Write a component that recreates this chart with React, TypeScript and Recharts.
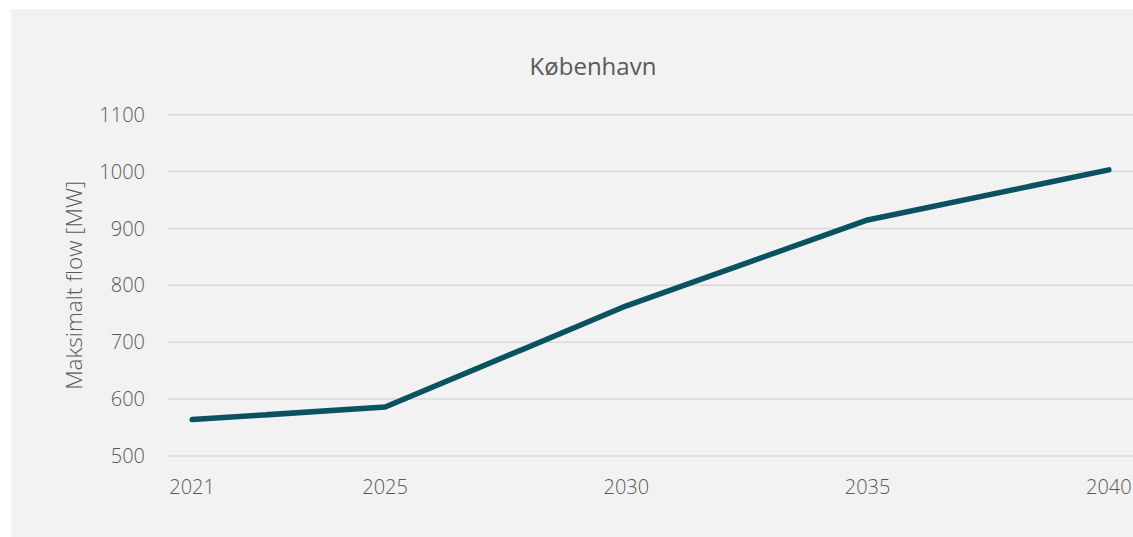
import React from "react";
import { LineChart, Line, XAxis, YAxis, CartesianGrid, Label } from "recharts";

const years = [2021, 2025, 2030, 2035, 2040];
const flowMW = [564, 586, 764, 915, 1003];
const yTicks = [500, 600, 700, 800, 900, 1000, 1100];
const xTicks = [2021, 2025, 2030, 2035, 2040];
const title = "København";
const yLabel = "Maksimalt flow [MW]";

const data = years.map((y, i) => ({ year: y, flow: flowMW[i] }));

const FONT = "'Open Sans', 'Noto Sans', sans-serif";
const TEXT = "#595959";

const YLabel = (props: any) => {
  const vb = props.viewBox || {};
  const cx = 63;
  const cy = vb.y + vb.height / 2;
  return (
    <text
      x={cx}
      y={cy}
      transform={`rotate(-90, ${cx}, ${cy})`}
      textAnchor="middle"
      dominantBaseline="central"
      fill={TEXT}
      fontFamily={FONT}
      fontWeight={300}
      fontSize={22.5}
    >
      {yLabel}
    </text>
  );
};

export default function App() {
  return (
    <div
      style={{
        position: "fixed",
        left: 11,
        top: 9,
        width: 1122,
        height: 528,
        background: "#f2f2f2",
        overflow: "hidden",
      }}
    >
      <div
        style={{
          position: "absolute",
          left: 432,
          width: 300,
          top: 40,
          textAlign: "center",
          fontFamily: FONT,
          fontSize: 24,
          color: TEXT,
          lineHeight: "34px",
        }}
      >
        {title}
      </div>
      <LineChart
        width={1122}
        height={528}
        data={data}
        margin={{ top: 105.7, right: 0, bottom: 41, left: 0 }}
        style={{ overflow: "visible" }}
      >
        <CartesianGrid vertical={false} stroke="#d9d9d9" strokeWidth={1.5} />
        <XAxis
          dataKey="year"
          type="number"
          domain={[2020.5, 2040.5]}
          ticks={xTicks}
          axisLine={false}
          tickLine={false}
          tickMargin={18}
          height={40}
          tick={{ fill: TEXT, fontSize: 20, fontFamily: FONT, fontWeight: 300 }}
        />
        <YAxis
          type="number"
          domain={[500, 1100]}
          ticks={yTicks}
          axisLine={false}
          tickLine={false}
          tickMargin={17}
          width={157}
          tick={{ fill: TEXT, fontSize: 20, fontFamily: FONT, fontWeight: 300 }}
        >
          <Label content={YLabel} />
        </YAxis>
        <Line
          type="linear"
          dataKey="flow"
          stroke="#0b5261"
          strokeWidth={5.5}
          strokeLinecap="round"
          strokeLinejoin="round"
          dot={false}
          isAnimationActive={false}
        />
      </LineChart>
    </div>
  );
}
